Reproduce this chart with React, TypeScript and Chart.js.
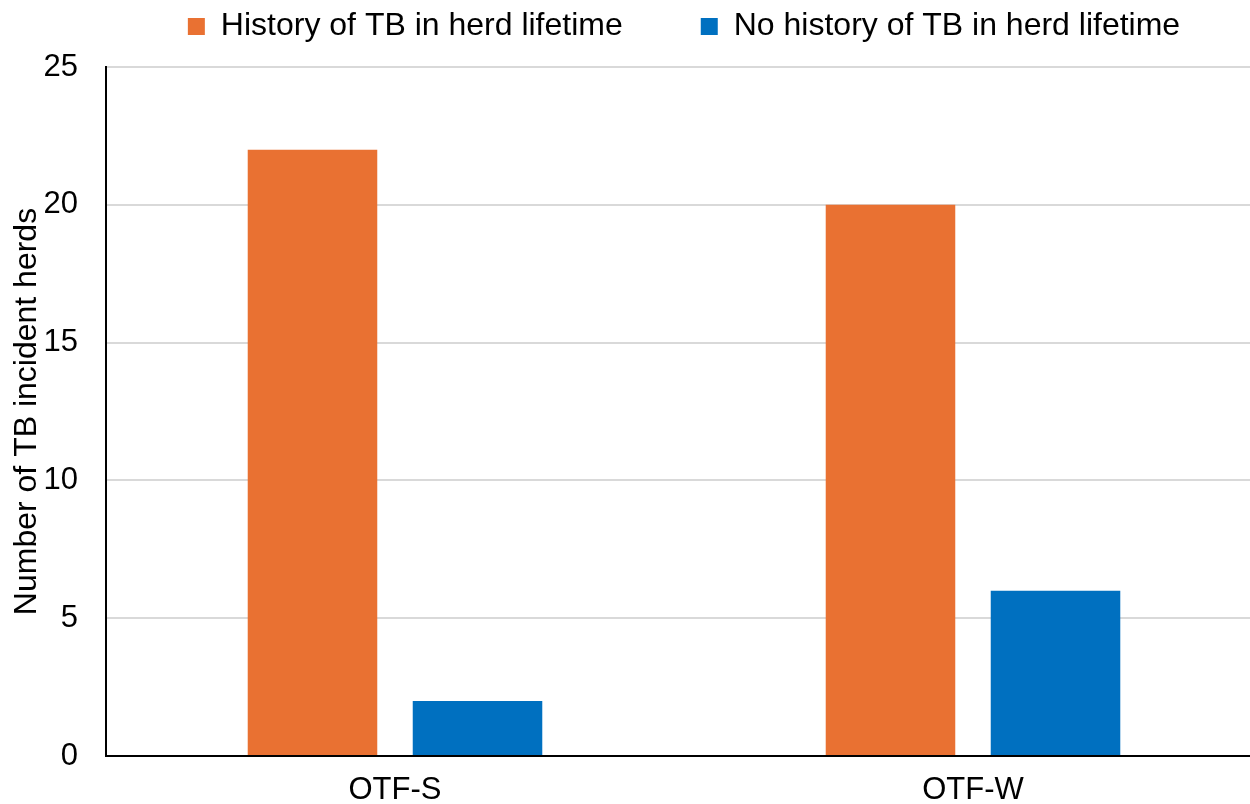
import React, { useEffect, useRef } from "react";
import { Chart, registerables } from "chart.js";

Chart.register(...registerables);

const categories = ["OTF-S", "OTF-W"];
const historyValues = [22, 20];
const noHistoryValues = [2, 6];
const seriesLabels = ["History of TB in herd lifetime", "No history of TB in herd lifetime"];
const yTicks = [0, 5, 10, 15, 20, 25];
const yTitle = "Number of TB incident herds";

const FONT = "'Liberation Sans', Arial, sans-serif";
const LEGEND_PAD = 78;
const PLOT_TOP = 67;
const LEGEND_ROW_TOP = 10.5;
const LAYOUT_TOP = LEGEND_ROW_TOP - LEGEND_PAD;

const legendFit = {
  id: "legendFit",
  beforeLayout(chart: any) {
    const lg = chart.legend;
    if (lg && !lg._patched) {
      const orig = lg.fit;
      lg.fit = function () {
        orig.call(this);
        this.height = PLOT_TOP - LAYOUT_TOP;
      };
      lg._patched = true;
    }
  },
};

export default function App() {
  const ref = useRef<HTMLCanvasElement | null>(null);
  useEffect(() => {
    if (!ref.current) return;
    const chart = new Chart(ref.current, {
      type: "bar",
      data: {
        labels: categories,
        datasets: [
          {
            label: seriesLabels[0],
            data: historyValues,
            backgroundColor: "#E97132",
            borderWidth: 0,
            categoryPercentage: 0.571,
            barPercentage: 0.785,
          },
          {
            label: seriesLabels[1],
            data: noHistoryValues,
            backgroundColor: "#0070C0",
            borderWidth: 0,
            categoryPercentage: 0.571,
            barPercentage: 0.785,
          },
        ],
      },
      options: {
        responsive: false,
        animation: false,
        devicePixelRatio: 1,
        layout: { padding: { top: LAYOUT_TOP, left: 0, right: 0, bottom: 0 } },
        plugins: {
          tooltip: { enabled: false },
          legend: {
            position: "top",
            fullSize: false,
            align: "center",
            labels: {
              boxWidth: 17,
              boxHeight: 17,
              padding: LEGEND_PAD,
              color: "#000",
              font: { family: FONT, size: 32 },
            },
          },
        },
        scales: {
          x: {
            grid: { display: false },
            border: { color: "#000", width: 2 },
            ticks: {
              color: "#000",
              padding: 8,
              font: { family: FONT, size: 31 },
            },
            afterFit(scale: any) {
              scale.height = 48;
            },
          },
          y: {
            min: 0,
            max: 25,
            afterBuildTicks(scale: any) {
              scale.ticks = yTicks.map((v) => ({ value: v }));
            },
            grid: { color: "#d9d9d9", lineWidth: 2, drawTicks: false },
            border: { color: "#000", width: 2 },
            ticks: {
              color: "#000",
              padding: 28,
              font: { family: FONT, size: 31 },
            },
            title: {
              display: true,
              text: yTitle,
              color: "#000",
              font: { family: FONT, size: 32 },
              padding: { top: 8, bottom: 0 },
            },
            afterFit(scale: any) {
              scale.width = 106;
            },
          },
        },
      },
      plugins: [legendFit],
    });
    return () => chart.destroy();
  }, []);

  return (
    <div
      style={{
        position: "fixed",
        left: 0,
        top: 0,
        width: 1250,
        height: 804,
        overflow: "hidden",
        background: "#fff",
      }}
    >
      <canvas ref={ref} width={1262} height={804} style={{ display: "block" }} />
    </div>
  );
}
